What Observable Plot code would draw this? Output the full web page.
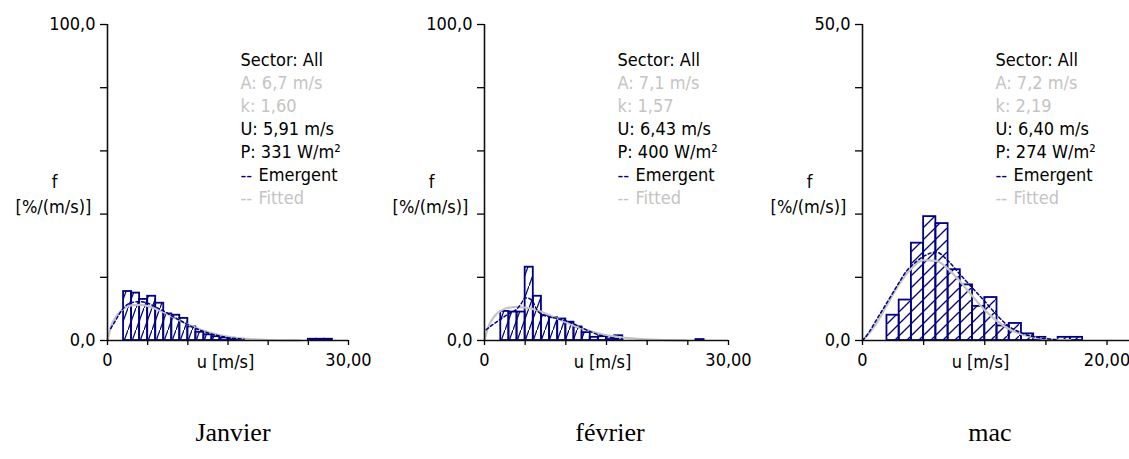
<!DOCTYPE html>
<html>
<head>
<meta charset="utf-8">
<script src="https://cdn.jsdelivr.net/npm/d3@7"></script>
<script src="https://cdn.jsdelivr.net/npm/@observablehq/plot@0.6"></script>
<style>
  html, body { margin: 0; padding: 0; background: #fff; }
  #wrap { position: relative; width: 1129px; height: 459px; overflow: hidden; }
  .panel { position: absolute; top: 0; }
  .caption {
    position: absolute; top: 418px; transform: translateX(-50%);
    font-family: "Liberation Serif", "Times New Roman", serif; font-size: 26px; color: #000;
    white-space: nowrap;
  }
</style>
</head>
<body>
<div id="wrap"></div>
<script>
// Monthly wind-speed distributions: histogram (1 m/s bins), emergent and Weibull-fitted curves
const months = ["Janvier", "février", "mac"];
const sector = ["All", "All", "All"];
const weibullA = [6.7, 7.1, 7.2];
const weibullK = [1.60, 1.57, 2.19];
const meanU = [5.91, 6.43, 6.40];
const powerP = [331, 400, 274];

const yMax = [100, 100, 50];
const yStep = [20, 20, 10];
const xTickMax = [30, 30, 20];
const xDomainMax = [30, 30, 22];
const binWidth = 1;

// Histogram bins (lower edge, m/s) and frequency (%/(m/s))
const janBinLo = [2, 3, 4, 5, 6, 7, 8, 9, 10, 11, 12, 13, 14, 15, 16, 25, 26, 27];
const janFreq  = [15.5, 15.0, 13.0, 14.0, 11.8, 8.4, 8.0, 7.0, 4.3, 2.6, 1.8, 1.2, 0.8, 0.5, 0.3, 0.4, 0.4, 0.4];
const febBinLo = [2, 3, 4, 5, 6, 7, 8, 9, 10, 11, 12, 13, 14, 15, 16, 26];
const febFreq  = [9.2, 9.0, 9.0, 23.2, 14.0, 7.9, 7.2, 6.8, 5.8, 4.3, 2.5, 1.0, 1.2, 0.3, 1.5, 0.3];
const marBinLo = [2, 3, 4, 5, 6, 7, 8, 9, 10, 11, 12, 13, 14, 16, 17];
const marFreq  = [4.0, 6.4, 15.4, 19.6, 18.5, 11.2, 8.8, 5.4, 6.8, 2.3, 2.7, 1.05, 0.5, 0.5, 0.5];

// Emergent distribution curves
const janEmU = [0.4, 1, 1.5, 2, 3, 4, 5, 6, 7, 8, 9, 10, 11, 12, 13, 14, 15, 16, 17];
const janEmF = [3.8, 6.3, 8.5, 10.3, 12.0, 12.3, 11.8, 10.6, 9.3, 7.8, 6.4, 5.0, 3.8, 2.8, 2.0, 1.4, 0.9, 0.6, 0.4];
const febEmU = [0.2, 1, 2, 3, 4, 4.5, 5, 5.5, 6, 6.5, 7, 8, 9, 10, 11, 12, 13, 14, 15, 16, 17];
const febEmF = [3.4, 5.0, 6.8, 8.5, 10.0, 11.6, 13.5, 13.3, 12.0, 9.5, 8.3, 7.5, 6.9, 6.2, 5.2, 4.0, 2.8, 1.8, 1.2, 0.7, 0.4];
const marEmU = [0, 0.5, 1, 2, 3, 3.6, 4, 5, 6, 7, 8, 9, 10, 11, 12, 13, 14, 15, 16];
const marEmF = [0, 1.2, 2.8, 6.0, 9.2, 11.0, 11.8, 13.3, 14.0, 12.6, 10.4, 8.3, 6.2, 4.0, 2.2, 1.2, 0.6, 0.3, 0.1];

// Fitted Weibull curves
const janFitU = [0, 0.5, 1, 2, 3, 4, 5, 6, 7, 8, 9, 10, 11, 12, 13, 14, 15, 16, 17, 18, 20, 22, 24];
const janFitF = [0, 4.9, 7.3, 10.0, 11.1, 11.3, 10.9, 10.0, 8.9, 7.6, 6.3, 5.1, 4.0, 3.1, 2.3, 1.7, 1.2, 0.85, 0.6, 0.4, 0.15, 0.05, 0];
const febFitU = [0, 0.5, 1, 2, 3, 4, 5, 6, 7, 8, 9, 10, 11, 12, 13, 14, 15, 16, 17, 18, 20, 22, 25];
const febFitF = [0, 4.5, 6.9, 9.4, 10.4, 10.6, 10.4, 9.9, 9.1, 8.0, 6.9, 5.8, 4.7, 3.8, 3.0, 2.3, 1.7, 1.3, 0.9, 0.7, 0.35, 0.15, 0];
const marFitU = [0, 1, 2, 3, 4, 5, 6, 7, 8, 9, 10, 11, 12, 13, 14, 15, 16, 17];
const marFitF = [0, 2.3, 5.6, 8.9, 11.4, 12.7, 12.6, 11.3, 9.3, 7.0, 4.8, 3.1, 1.8, 1.0, 0.5, 0.25, 0.1, 0.05];

const binLo = [janBinLo, febBinLo, marBinLo];
const freq = [janFreq, febFreq, marFreq];
const emU = [janEmU, febEmU, marEmU];
const emF = [janEmF, febEmF, marEmF];
const fitU = [janFitU, febFitU, marFitU];
const fitF = [janFitF, febFitF, marFitF];

// Layout and styling
const layout = [
  {left: 0,   width: 380, marginRight: 32, hatchW: 8,  hatchH: 22, caption: 233},
  {left: 377, width: 380, marginRight: 29, hatchW: 8,  hatchH: 22, caption: 610},
  {left: 755, width: 376, marginRight: 0,  hatchW: 12, hatchH: 12, caption: 990}
];
const navy = "#000080";
const lightGrey = "#c4c4c4";
const uiFont = '"DejaVu Sans Condensed", "DejaVu Sans", sans-serif';
const lineGap = 23;

const comma = (v, digits) => v.toFixed(digits).replace(".", ",");

const wrap = document.getElementById("wrap");

months.forEach((month, i) => {
  const L = layout[i];
  const patternId = `hatch-${i}`;
  const bins = binLo[i].map((lo, j) => ({lo, hi: lo + binWidth, f: freq[i][j]}));
  const emergent = emU[i].map((u, j) => ({u, f: emF[i][j]}));
  const fitted = fitU[i].map((u, j) => ({u, f: fitF[i][j]}));

  // Diagonal hatching used to fill the histogram bars
  const hatchDefs = () => {
    const defs = d3.create("svg:defs");
    const w = L.hatchW, h = L.hatchH;
    const p = defs.append("pattern")
      .attr("id", patternId)
      .attr("patternUnits", "userSpaceOnUse")
      .attr("width", w).attr("height", h);
    p.append("path")
      .attr("d", `M${-w / 2},${h * 1.5}L${w * 1.5},${-h / 2}`)
      .attr("stroke", navy).attr("stroke-width", 1.25).attr("fill", "none");
    return defs.node();
  };

  const statLines = [
    {text: `Sector: ${sector[i]}`, fill: "#000"},
    {text: `A: ${comma(weibullA[i], 1)} m/s`, fill: lightGrey},
    {text: `k: ${comma(weibullK[i], 2)}`, fill: lightGrey},
    {text: `U: ${comma(meanU[i], 2)} m/s`, fill: "#000"},
    {text: `P: ${powerP[i]} W/m²`, fill: "#000"}
  ];
  const legendLines = [
    {dash: "--", dashFill: navy, text: "Emergent", fill: "#000"},
    {dash: "--", dashFill: lightGrey, text: "Fitted", fill: lightGrey}
  ];

  const textMarks = [];
  statLines.forEach((s, j) => {
    textMarks.push(Plot.text([s.text], {
      text: d => d, frameAnchor: "top-left", dx: 133, dy: 36 + lineGap * j,
      textAnchor: "start", lineAnchor: "middle", fill: s.fill
    }));
  });
  legendLines.forEach((s, j) => {
    const row = statLines.length + j;
    textMarks.push(Plot.text([s.dash], {
      text: d => d, frameAnchor: "top-left", dx: 133, dy: 36 + lineGap * row,
      textAnchor: "start", lineAnchor: "middle", fill: s.dashFill
    }));
    textMarks.push(Plot.text([s.text], {
      text: d => d, frameAnchor: "top-left", dx: 151, dy: 36 + lineGap * row,
      textAnchor: "start", lineAnchor: "middle", fill: s.fill
    }));
  });

  const chart = Plot.plot({
    width: L.width,
    height: 380,
    marginLeft: 107,
    marginRight: L.marginRight,
    marginTop: 24,
    marginBottom: 40,
    x: {domain: [0, xDomainMax[i]]},
    y: {domain: [0, yMax[i]]},
    style: {fontFamily: uiFont, fontSize: "18px", color: "#000", background: "transparent", overflow: "visible"},
    marks: [
      hatchDefs,
      Plot.rectY(bins, {x1: "lo", x2: "hi", y: "f", fill: `url(#${patternId})`, stroke: navy, strokeWidth: 1.8}),
      Plot.line(fitted, {x: "u", y: "f", stroke: lightGrey, strokeWidth: 2.2, strokeDasharray: "5,1", curve: "monotone-x"}),
      Plot.line(emergent, {x: "u", y: "f", stroke: navy, strokeWidth: 1.5, strokeDasharray: "3,2.5", curve: "monotone-x"}),
      Plot.ruleX([0], {stroke: "#111", strokeWidth: 1.6}),
      Plot.ruleY([0], {stroke: "#111", strokeWidth: 1.6}),
      Plot.axisY({
        ticks: d3.range(0, yMax[i] + 1, yStep[i]),
        tickSize: 7, tickPadding: 5, strokeWidth: 1.3,
        tickFormat: d => (d === 0 || d === yMax[i]) ? comma(d, 1) : "",
        label: null
      }),
      Plot.axisX({
        ticks: d3.range(0, xTickMax[i] + 1, 5),
        tickSize: 5, tickPadding: 8, strokeWidth: 1.3,
        tickFormat: d => d === 0 ? "0" : d === xTickMax[i] ? comma(d, 2) : "",
        label: null
      }),
      Plot.text(["u [m/s]"], {text: d => d, frameAnchor: "bottom-left", dx: 118, dy: 22, textAnchor: "middle", lineAnchor: "middle"}),
      Plot.text(["f"], {text: d => d, frameAnchor: "left", dx: -53, dy: 0, textAnchor: "middle", lineAnchor: "middle"}),
      Plot.text(["[%/(m/s)]"], {text: d => d, frameAnchor: "left", dx: -54, dy: 25, textAnchor: "middle", lineAnchor: "middle"}),
      ...textMarks
    ]
  });

  const holder = document.createElement("div");
  holder.className = "panel";
  holder.style.left = `${L.left}px`;
  holder.style.width = `${L.width}px`;
  holder.appendChild(chart);
  wrap.appendChild(holder);

  const cap = document.createElement("div");
  cap.className = "caption";
  cap.style.left = `${L.caption}px`;
  cap.textContent = month;
  wrap.appendChild(cap);
});
</script>
</body>
</html>
